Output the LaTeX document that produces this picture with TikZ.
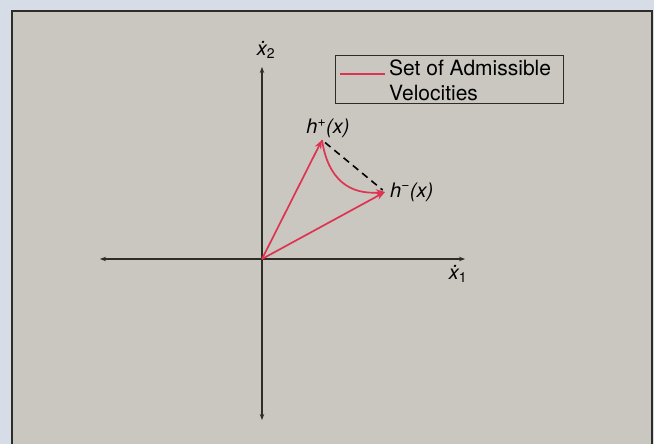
\documentclass[tikz,border=0pt]{standalone}
\usepackage{fontspec}
\setmainfont{TeX Gyre Heros}
\usetikzlibrary{arrows.meta,positioning}
\definecolor{pageout}{RGB}{214,221,230}
\definecolor{pagein}{RGB}{201,199,191}
\definecolor{velred}{RGB}{222,52,82}
\definecolor{axisgray}{RGB}{45,45,40}

\begin{document}
\begin{tikzpicture}[
    x=1pt, y=-1pt,
    axis/.style={
        {Stealth[length=6pt,width=4.5pt]}-{Stealth[length=6pt,width=4.5pt]},
        draw=axisgray,
        line width=1.1pt
    },
    vec/.style={
        -{Stealth[length=9pt,width=7pt]},
        draw=velred,
        line width=1.7pt
    },
    lbl/.style={
        inner sep=1pt,
        font=\fontsize{20}{22}\selectfont
    },
    legendbox/.style={
        rectangle,
        draw=axisgray,
        line width=1pt,
        minimum width=228pt,
        minimum height=48pt
    }
]

% Page and frame
\useasboundingbox (0,0) rectangle (654,444);
\fill[pageout] (0,0) rectangle (654,444);
\fill[pagein, draw=axisgray, line width=1.2pt] (12,11) rectangle (652,460);

% Axes
\coordinate (O) at (262,259);
\coordinate (xl) at (100,259);
\coordinate (xr) at (465,259);
\coordinate (yt) at (262,67);
\coordinate (yb) at (262,420);
\draw[axis] (xl) -- (xr);
\draw[axis] (yt) -- (yb);
\node[lbl] (x1) at (458,274) {\itshape \.{x}\textsubscript{\upshape 1}};
\node[lbl] (x2) at (266,50) {\itshape \.{x}\textsubscript{\upshape 2}};

% Velocity bounds
\coordinate (hp) at (322,140);
\coordinate (hm) at (385,192);
\node[lbl, anchor=south] (hplbl) at (328,139) {\itshape h\textsuperscript{\upshape +}(x)};
\node[lbl, anchor=west] (hmlbl) at (389,192) {\itshape h\textsuperscript{\upshape \textminus}(x)};

\draw[vec] (O) -- (hp);
\draw[vec] (O) -- (hm);
\draw[vec] (hp) .. controls (328,180) and (350,195) .. (hm);
\draw[black, dashed, line width=1.6pt, dash pattern=on 7pt off 5pt,
    shorten <=4pt, shorten >=3pt] (hp) -- (hm);

% Legend
\node[legendbox] (leg) at (449,80) {};
\node[anchor=west, align=left, inner sep=0pt,
    font=\fontsize{21}{25}\selectfont] (legtext) at (389,80)
    {Set of Admissible\\Velocities};
\draw[velred, line width=1.7pt] ([xshift=5pt,yshift=6pt]leg.west) -- ([xshift=50pt,yshift=6pt]leg.west);

\end{tikzpicture}
\end{document}
